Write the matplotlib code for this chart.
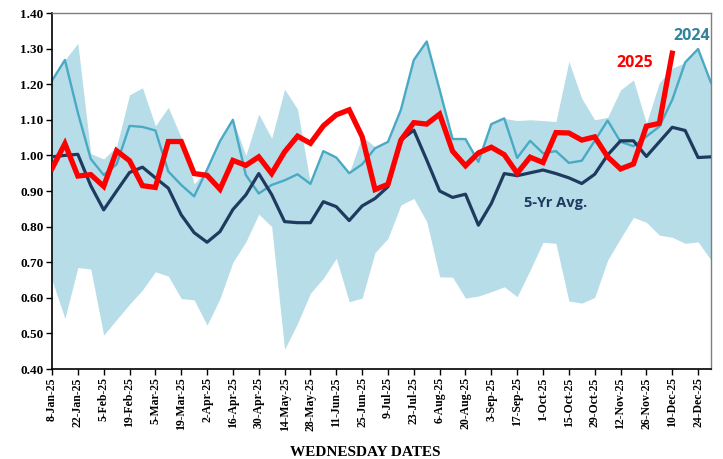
import matplotlib
matplotlib.use("Agg")
import matplotlib.pyplot as plt
import numpy as np

tick_labels = ["8-Jan-25", "22-Jan-25", "5-Feb-25", "19-Feb-25", "5-Mar-25", "19-Mar-25",
               "2-Apr-25", "16-Apr-25", "30-Apr-25", "14-May-25", "28-May-25", "11-Jun-25",
               "25-Jun-25", "9-Jul-25", "23-Jul-25", "6-Aug-25", "20-Aug-25", "3-Sep-25",
               "17-Sep-25", "1-Oct-25", "15-Oct-25", "29-Oct-25", "12-Nov-25", "26-Nov-25",
               "10-Dec-25", "24-Dec-25"]

range_upper = [1.21, 1.268, 1.315, 1.005, 0.99, 1.025, 1.17, 1.19, 1.083, 1.135,
               1.05, 0.92, 0.96, 1.045, 1.10, 1.00, 1.116, 1.048, 1.186, 1.13,
               0.921, 1.012, 0.994, 0.95, 1.054, 1.024, 1.038, 1.128, 1.268, 1.32,
               1.184, 1.046, 1.046, 0.982, 1.088, 1.104, 1.098, 1.10, 1.098, 1.095,
               1.264, 1.16, 1.10, 1.107, 1.184, 1.212, 1.09, 1.204, 1.245, 1.261,
               1.299, 1.204]

range_lower = [0.65, 0.542, 0.685, 0.681, 0.495, 0.539, 0.582, 0.622, 0.673, 0.661,
               0.598, 0.594, 0.523, 0.598, 0.70, 0.757, 0.835, 0.80, 0.455, 0.528,
               0.613, 0.655, 0.711, 0.589, 0.599, 0.727, 0.767, 0.861, 0.879, 0.814,
               0.659, 0.658, 0.599, 0.605, 0.617, 0.631, 0.603, 0.678, 0.756, 0.753,
               0.591, 0.585, 0.601, 0.706, 0.767, 0.826, 0.812, 0.776, 0.770, 0.753,
               0.757, 0.706]

y2024 = [1.21, 1.268, 1.12, 0.99, 0.945, 0.975, 1.083, 1.08, 1.07, 0.955,
         0.917, 0.885, 0.96, 1.04, 1.10, 0.945, 0.893, 0.917, 0.93, 0.947,
         0.92, 1.012, 0.994, 0.95, 0.975, 1.02, 1.038, 1.128, 1.268, 1.32,
         1.184, 1.046, 1.046, 0.982, 1.088, 1.104, 0.993, 1.041, 1.006, 1.012,
         0.979, 0.985, 1.041, 1.098, 1.038, 1.026, 1.053, 1.081, 1.156, 1.261,
         1.299, 1.204]

avg5 = [0.996, 1.00, 1.003, 0.915, 0.847, 0.90, 0.952, 0.967, 0.937, 0.908,
        0.833, 0.783, 0.756, 0.786, 0.848, 0.889, 0.949, 0.89, 0.814, 0.811,
        0.811, 0.870, 0.856, 0.817, 0.858, 0.879, 0.912, 1.043, 1.071, 0.987,
        0.90, 0.882, 0.891, 0.804, 0.865, 0.949, 0.943, 0.951, 0.959, 0.949,
        0.937, 0.921, 0.947, 1.001, 1.041, 1.041, 0.997, 1.038, 1.079, 1.07,
        0.994, 0.996]

y2025 = [0.963, 1.033, 0.942, 0.946, 0.913, 1.013, 0.985, 0.915, 0.91, 1.039,
         1.039, 0.949, 0.944, 0.905, 0.986, 0.972, 0.996, 0.949, 1.01, 1.054,
         1.034, 1.083, 1.114, 1.128, 1.053, 0.904, 0.919, 1.043, 1.092, 1.088,
         1.116, 1.012, 0.971, 1.007, 1.023, 1.002, 0.95, 0.995, 0.98, 1.064,
         1.063, 1.043, 1.052, 0.996, 0.962, 0.976, 1.082, 1.09, 1.287]

serif = "Liberation Serif"
sans = "Open Sans"

fig = plt.figure(figsize=(7.23, 4.59), dpi=100)
ax = fig.add_axes([52/723, 1-369/459, (711-52)/723, (369-13)/459])

x = np.arange(len(range_upper))
ax.fill_between(x, range_lower, range_upper, color="#b7dde8", linewidth=0, zorder=1)
ax.plot(x, avg5, color="#1f3a5f", lw=2.3, zorder=3)
ax.plot(x, y2024, color="#4aaac4", lw=1.7, zorder=2)
ax.plot(np.arange(len(y2025)), y2025, color="#ff0000", lw=3.8, zorder=4,
        solid_joinstyle="miter")

ax.set_xlim(0, len(range_upper) - 1)
ax.set_ylim(0.40, 1.40)
ax.set_yticks(np.arange(0.40, 1.401, 0.10))
ax.set_yticklabels([f"{v:.2f}" for v in np.arange(0.40, 1.401, 0.10)],
                   fontfamily=serif, fontweight="bold", fontsize=9.5)
ax.set_xticks(np.arange(0, len(range_upper), 2))
ax.set_xticklabels(tick_labels, rotation=90, fontfamily=serif, fontweight="bold",
                   fontsize=8.5)
ax.tick_params(axis="both", direction="out", length=4, width=1, pad=2)

for s in ["left", "bottom"]:
    ax.spines[s].set_color("black")
    ax.spines[s].set_linewidth(1.2)
for s in ["top", "right"]:
    ax.spines[s].set_color("#7f7f7f")
    ax.spines[s].set_linewidth(1.0)

ax.text(49.5, 1.335, "2024", color="#31849b", fontfamily=sans, fontweight="bold",
        fontsize=11.5, ha="center", va="center")
ax.text(45.1, 1.260, "2025", color="#ff0000", fontfamily=sans, fontweight="bold",
        fontsize=11.5, ha="center", va="center")
ax.text(39.0, 0.865, "5-Yr Avg.", color="#1f3a5f", fontfamily=sans, fontweight="bold",
        fontsize=10.5, ha="center", va="center")

fig.text(365/723, 1-452/459, "WEDNESDAY DATES", fontfamily=serif, fontweight="bold",
         fontsize=11, ha="center", va="center")

fig.savefig("out.png", dpi=100)
